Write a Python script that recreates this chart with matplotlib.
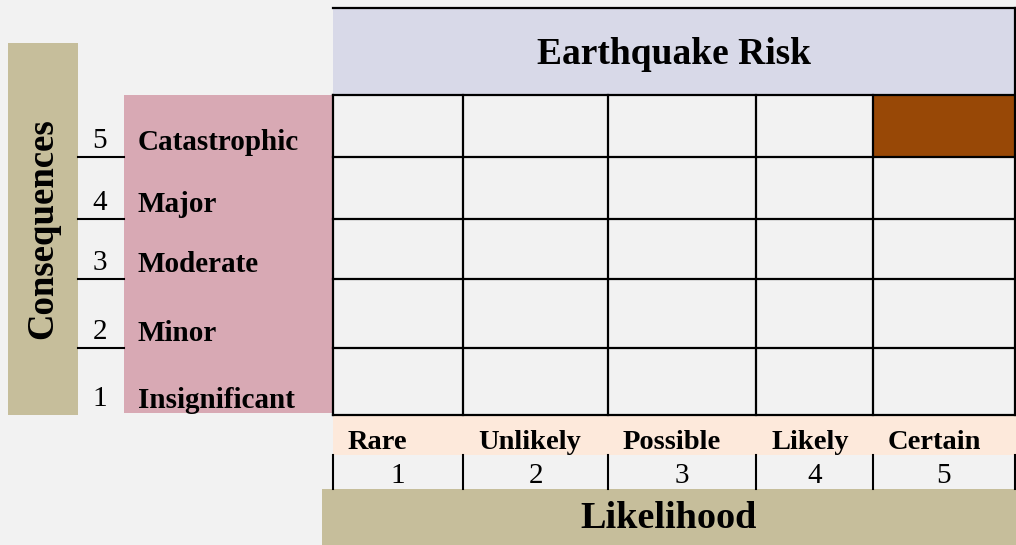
import matplotlib
matplotlib.use("Agg")
import matplotlib.pyplot as plt
from matplotlib.patches import Rectangle

# data
consequence_levels = [5, 4, 3, 2, 1]
consequence_labels = ["Catastrophic", "Major", "Moderate", "Minor", "Insignificant"]
likelihood_levels = [1, 2, 3, 4, 5]
likelihood_labels = ["Rare", "Unlikely", "Possible", "Likely", "Certain"]
# (likelihood, consequence) rated for the earthquake
risk_cells = [(5, 5)]

# layout in pixels
col_edges = [333, 463, 608, 756, 873, 1015]
row_edges = [95, 157, 219, 279, 348, 415]

BG = "#f2f2f2"
LAVENDER = "#d8d9e8"
PINK = "#d8a9b4"
TAN = "#c6be9b"
PEACH = "#fde9db"
BROWN = "#984806"
SERIF = "Liberation Serif"

fig = plt.figure(figsize=(10.16, 5.45), dpi=100)
fig.patch.set_facecolor(BG)
ax = fig.add_axes([0, 0, 1, 1])
ax.set_xlim(0, 1016)
ax.set_ylim(545, 0)
ax.axis("off")

# title block
ax.add_patch(Rectangle((333, 8), 682, 87, facecolor=LAVENDER, edgecolor="none"))
ax.plot([333, 1015], [8, 8], color="black", lw=1.6)
ax.plot([1015, 1015], [8, 95], color="black", lw=1.6)
ax.text(674, 55, "Earthquake Risk", fontsize=27, fontweight="bold",
        family=SERIF, ha="center", va="center")

# consequences side bar
ax.add_patch(Rectangle((8, 43), 70, 372, facecolor=TAN, edgecolor="none"))
ax.text(43, 229, "Consequences", fontsize=26.5, fontweight="bold", family=SERIF,
        rotation=90, ha="center", va="center")

# pink label column
ax.add_patch(Rectangle((124, 95), 209, 318, facecolor=PINK, edgecolor="none"))

for i, (lvl, lab) in enumerate(zip(consequence_levels, consequence_labels)):
    bottom = row_edges[i + 1]
    ax.text(100, bottom - 9, str(lvl), fontsize=21, family=SERIF,
            ha="center", va="baseline")
    ax.text(138, bottom - 7, lab, fontsize=21, fontweight="bold", family=SERIF,
            ha="left", va="baseline")
    if i < len(consequence_levels) - 1:
        ax.plot([78, 124], [bottom, bottom], color="black", lw=1.5)

# highlighted risk cells
for lk, cq in risk_cells:
    c = likelihood_levels.index(lk)
    r = consequence_levels.index(cq)
    ax.add_patch(Rectangle((col_edges[c], row_edges[r]),
                           col_edges[c + 1] - col_edges[c],
                           row_edges[r + 1] - row_edges[r],
                           facecolor=BROWN, edgecolor="none"))

# grid
for y in row_edges:
    ax.plot([col_edges[0], col_edges[-1]], [y, y], color="black", lw=1.6)
for x in col_edges:
    ax.plot([x, x], [row_edges[0], row_edges[-1]], color="black", lw=1.6)

# likelihood header rows
ax.add_patch(Rectangle((333, 416), 683, 39, facecolor=PEACH, edgecolor="none"))
for j, (lvl, lab) in enumerate(zip(likelihood_levels, likelihood_labels)):
    left, right = col_edges[j], col_edges[j + 1]
    ax.text(left + 15, 449, lab, fontsize=20.5, fontweight="bold", family=SERIF,
            ha="left", va="baseline")
    ax.text((left + right) / 2, 483, str(lvl), fontsize=21, family=SERIF,
            ha="center", va="baseline")
for x in col_edges:
    ax.plot([x, x], [455, 489], color="black", lw=1.5)

ax.add_patch(Rectangle((322, 489), 694, 56, facecolor=TAN, edgecolor="none"))
ax.text(669, 519, "Likelihood", fontsize=27.5, fontweight="bold", family=SERIF,
        ha="center", va="center")

fig.savefig("out.png", dpi=100, facecolor=BG)
